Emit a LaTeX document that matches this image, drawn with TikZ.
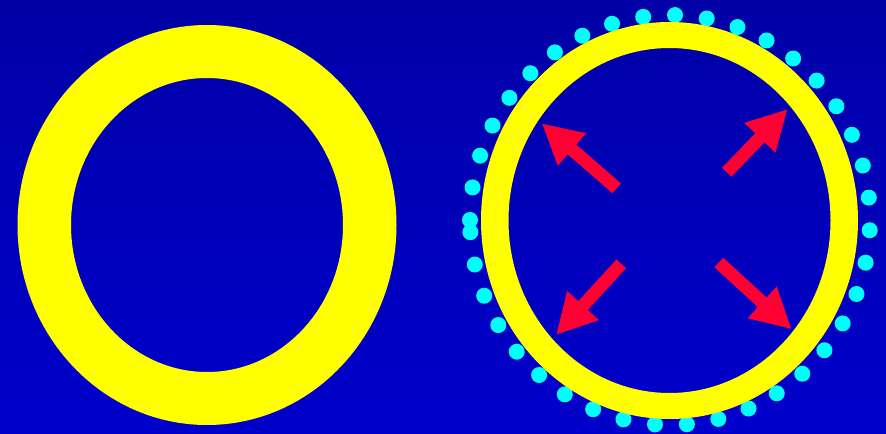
\documentclass[tikz,border=0pt]{standalone}
\usetikzlibrary{arrows.meta}
\definecolor{bgtop}{RGB}{0,0,166}
\definecolor{bgbottom}{RGB}{0,0,204}
\definecolor{ringyellow}{RGB}{255,255,0}
\definecolor{beadcyan}{RGB}{0,255,255}
\definecolor{pushred}{RGB}{255,0,51}
\tikzset{
    ring/.style={fill=ringyellow, even odd rule},
    bead/.style={
        circle,
        fill=beadcyan,
        inner sep=0pt,
        minimum size=0.32cm
    },
    push/.style={-{Triangle[length=0.8cm, width=0.8cm]}, line width=0.26cm, draw=pushred}
}

\begin{document}
\begin{tikzpicture}[x=0.02cm, y=-0.02cm]
\useasboundingbox (0,0) rectangle (886,433);
\shade[top color=bgtop, bottom color=bgbottom] (0,0) rectangle (886,433);

% closed ring
\fill[ring] (207,225) ellipse [x radius=189.5, y radius=200]
            (207,225) ellipse [x radius=136, y radius=147];

% ring with beads
\foreach \k in {0,...,39}
    \node[bead] (b\k) at ({670+200*cos(180-\k*9.1436)},{220-205*sin(180-\k*9.1436)}) {};
\fill[ring] (669.5,220.5) ellipse [x radius=188.5, y radius=198.5]
            (669.5,220.5) ellipse [x radius=161, y radius=172.5];

% outward push
\coordinate (ulTail) at (616.7,188.3);
\coordinate (ulTip) at (541.7,123.3);
\coordinate (urTail) at (726.7,172.2);
\coordinate (urTip) at (787.7,109);
\coordinate (llTail) at (621.3,263.8);
\coordinate (llTip) at (556,335);
\coordinate (lrTail) at (718.8,262.5);
\coordinate (lrTip) at (791.7,329.3);
\foreach \s in {ul,ur,ll,lr}
    \draw[push] (\s Tail) -- (\s Tip);
\end{tikzpicture}
\end{document}
